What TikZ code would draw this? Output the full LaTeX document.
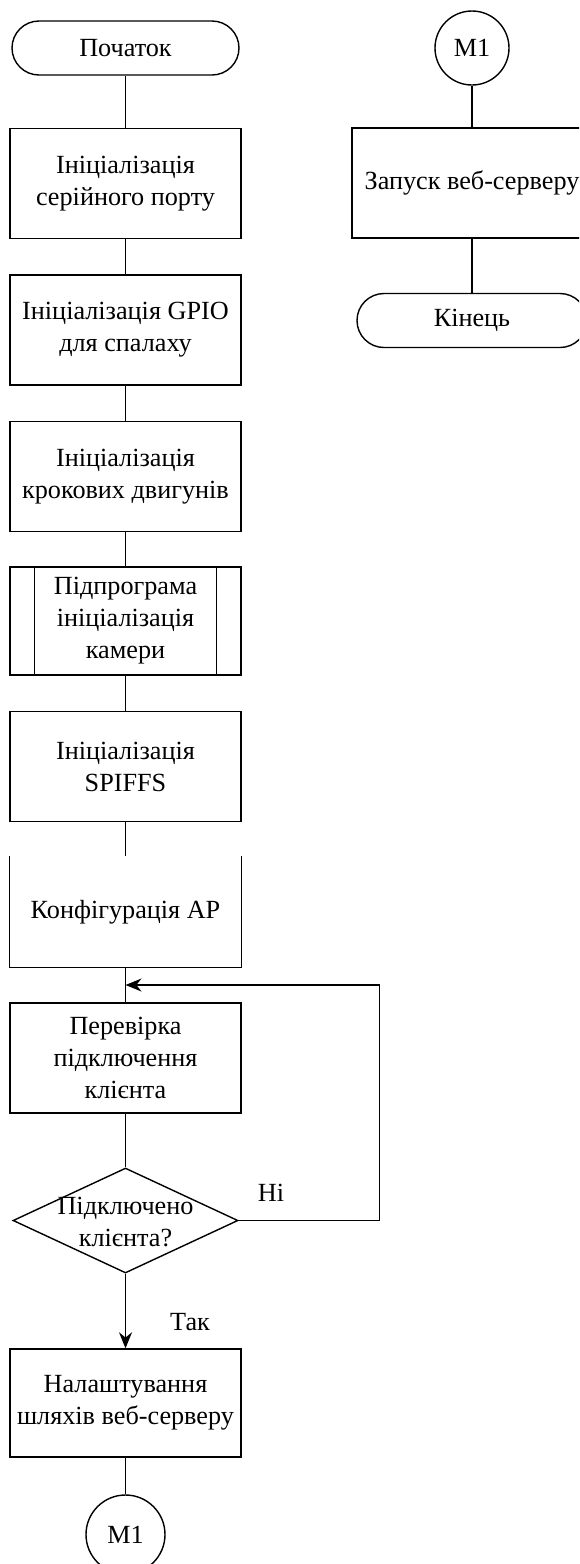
\documentclass[tikz,border=0pt]{standalone}
\usepackage{fontspec}
\setmainfont{Liberation Serif}
\usetikzlibrary{shapes.geometric,arrows.meta}
\begin{document}
\begin{tikzpicture}[x=0.5pt,y=-0.5pt,line width=0.7pt,
  every node/.style={font=\fontsize{13.1}{16}\selectfont},
  proc/.style={draw, minimum width=115.5pt, minimum height=55pt, align=center, inner sep=0pt},
  term/.style={draw, rounded corners=13.5pt, minimum width=113.5pt, minimum height=27pt, inner sep=0pt},
  conn/.style={draw, circle, minimum size=39.5pt, inner sep=0pt},
  dec/.style={draw, diamond, minimum width=112.5pt, minimum height=52.5pt, inner sep=0pt},
  arr/.style={-{Stealth[length=8pt,width=6.5pt]}},
  lbl/.style={inner sep=0pt}
]
\useasboundingbox (0,0) rectangle (579,1564);
\clip (0,0) rectangle (579,1564);

% left column
\node[term] (start) at (125.5,48) {Початок};
\node[proc] (b1) at (125.5,183.5) {Ініціалізація\\серійного порту};
\node[proc] (b2) at (125.5,330) {Ініціалізація GPIO\\для спалаху};
\node[proc] (b3) at (125.5,476.5) {Ініціалізація\\крокових двигунів};
\node[proc, minimum height=54pt] (sub) at (125.5,621) {Підпрограма\\ініціалізація\\камери};
\draw ([xshift=12.5pt]sub.north west) -- ([xshift=12.5pt]sub.south west);
\draw ([xshift=-12.5pt]sub.north east) -- ([xshift=-12.5pt]sub.south east);
\node[proc] (b5) at (125.5,766.5) {Ініціалізація\\SPIFFS};
\node[proc, draw=none] (ap) at (125.5,912) {Конфігурація AP};
\draw (ap.north west) -- (ap.south west) -- (ap.south east) -- (ap.north east);
\node[proc] (chk) at (125.5,1058) {Перевірка\\підключення\\клієнта};
\node[dec] (dec) at (125.5,1220.5) {};
\node[align=center, inner sep=0pt] (dtxt) at (125.5,1222) {Підключено\\клієнта?};
\node[proc, minimum height=54pt] (web) at (125.5,1403) {Налаштування\\шляхів веб-серверу};
\node[conn] (m1a) at (125.5,1534.5) {M1};
\coordinate (loopin) at (125.5,985);

% right column
\node[conn, minimum size=37pt] (m1b) at (472,48) {M1};
\node[proc, minimum width=120pt] (run) at (472,183) {Запуск веб-серверу};
\node[term, minimum width=115pt] (end) at (472,320.5) {Кінець};

% connectors
\draw (start) -- (b1);
\draw (b1) -- (b2);
\draw (b2) -- (b3);
\draw (b3) -- (sub);
\draw (sub) -- (b5);
\draw (b5) -- (ap);
\draw (ap) -- (chk);
\draw (chk) -- (dec);
\draw[arr] (dec) -- (web);
\draw (web) -- (m1a);
\draw[arr] (dec.east) -- ++(141,0) |- (loopin);
\draw (m1b) -- (run);
\draw (run) -- (end);

% labels
\node[lbl] (no) at (271,1193) {Ні};
\node[lbl] (yes) at (190,1322) {Так};
\end{tikzpicture}
\end{document}
